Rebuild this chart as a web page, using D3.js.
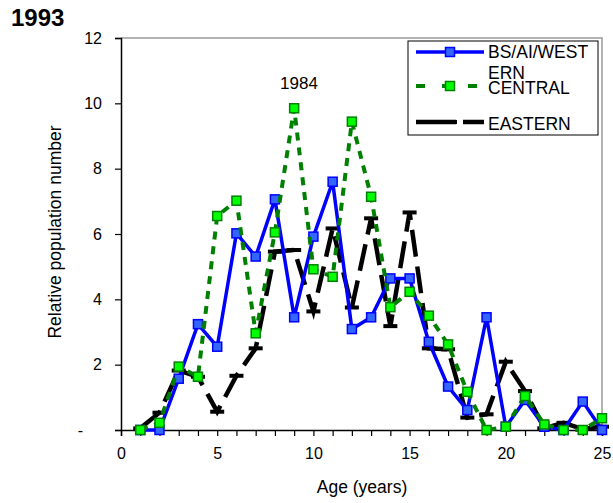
<!DOCTYPE html>
<html>
<head>
<meta charset="utf-8">
<script src="https://cdn.jsdelivr.net/npm/d3@7"></script>
<style>
  html, body { margin: 0; padding: 0; background: #fff; }
  svg { display: block; font-family: Arial, "Liberation Sans", sans-serif; }
</style>
</head>
<body>
<svg id="chart" width="613" height="503"></svg>
<script>
// ---- data ----
const ages = [1,2,3,4,5,6,7,8,9,10,11,12,13,14,15,16,17,18,19,20,21,22,23,24,25];
const western = [0,0,1.57,3.24,2.55,6.02,5.31,7.06,3.45,5.92,7.6,3.09,3.45,4.64,4.64,2.7,1.33,0.61,3.45,0.1,0.92,0.1,0,0.87,0];
const central = [0,0.22,1.94,1.63,6.55,7.02,2.96,6.05,9.85,4.92,4.69,9.44,7.14,3.76,4.23,3.5,2.62,1.17,0,0.1,1.04,0.17,0,0,0.36];
const eastern = [0.05,0.53,1.82,1.63,0.56,1.66,2.5,5.46,5.51,3.63,6.17,3.75,6.48,3.18,6.66,2.5,2.47,0.38,0.48,2.09,1.19,0.05,0.22,0.03,0.1];
const seriesNames = ["BS/AI/WESTERN", "CENTRAL", "EASTERN"];
const yTicks = [0,2,4,6,8,10,12];
const xTicks = [0,5,10,15,20,25];
const title = "1993";
const annotation = "1984";
const xLabel = "Age (years)";
const yLabel = "Relative population number";

// ---- layout ----
const svg = d3.select("#chart");
const L = 121, R = 602, T = 38, B = 430;
const x = d3.scaleLinear().domain([0,25]).range([L,R]);
const y = d3.scaleLinear().domain([0,12]).range([B,T]);

// plot frame (top/right grey)
svg.append("path")
  .attr("d", `M${L},${T}H${R}V${B}`)
  .attr("fill","none").attr("stroke","#9a9a9a").attr("stroke-width",1.5);

// y axis
const yAxis = d3.axisLeft(y).tickValues(yTicks).tickSize(6).tickPadding(13)
  .tickFormat(d => d === 0 ? "-" : d);
const gy = svg.append("g").attr("transform",`translate(${L},0)`).call(yAxis);
gy.select(".domain").attr("stroke","#000").attr("stroke-width",1.5);
gy.selectAll(".tick line").attr("stroke","#000").attr("stroke-width",1.2);
gy.selectAll(".tick text").attr("font-size",16).attr("fill","#000")
  .attr("font-family","Arial, 'Liberation Sans', sans-serif");
gy.selectAll(".tick text").filter(d => d === 0).attr("dx",-19);

// x axis
const xAxis = d3.axisBottom(x).tickValues(d3.range(0,26)).tickSize(6).tickPadding(12)
  .tickFormat(d => xTicks.includes(d) ? d : "");
const gx = svg.append("g").attr("transform",`translate(0,${B})`).call(xAxis);
gx.select(".domain").attr("stroke","#000").attr("stroke-width",1.5);
gx.selectAll(".tick line").attr("stroke","#000").attr("stroke-width",1.2);
gx.selectAll(".tick text").attr("font-size",16).attr("fill","#000")
  .attr("font-family","Arial, 'Liberation Sans', sans-serif");

// titles
svg.append("text").attr("x",11).attr("y",26).attr("font-size",24).attr("font-weight","bold").text(title);
svg.append("text").attr("x",362).attr("y",493).attr("text-anchor","middle").attr("font-size",17.5).text(xLabel);
svg.append("text").attr("transform",`translate(61,232) rotate(-90)`)
  .attr("text-anchor","middle").attr("font-size",17.5).text(yLabel);
svg.append("text").attr("x",299).attr("y",89).attr("text-anchor","middle").attr("font-size",17).text(annotation);

// series
const line = d3.line().x((d,i) => x(ages[i])).y(d => y(d));

// eastern (black long dash)
svg.append("path").datum(eastern).attr("d",line)
  .attr("fill","none").attr("stroke","#000").attr("stroke-width",4.5)
  .attr("stroke-dasharray","27,10");
svg.selectAll(".emk").data(eastern).enter().append("rect")
  .attr("x",(d,i) => x(ages[i]) - 7).attr("y",d => y(d) - 2)
  .attr("width",14).attr("height",4).attr("fill","#000");

// western (blue solid)
svg.append("path").datum(western).attr("d",line)
  .attr("fill","none").attr("stroke","#0000ff").attr("stroke-width",3.5)
  .attr("stroke-linejoin","miter");
svg.selectAll(".wmk").data(western).enter().append("rect")
  .attr("x",(d,i) => x(ages[i]) - 4.5).attr("y",d => y(d) - 4.5)
  .attr("width",9).attr("height",9)
  .attr("fill","#3366ff").attr("stroke","#0000ff").attr("stroke-width",1.5);

// central (green dotted)
svg.append("path").datum(central).attr("d",line)
  .attr("fill","none").attr("stroke","#008000").attr("stroke-width",4)
  .attr("stroke-dasharray","8,7");
svg.selectAll(".cmk").data(central).enter().append("rect")
  .attr("x",(d,i) => x(ages[i]) - 4.5).attr("y",d => y(d) - 4.5)
  .attr("width",9).attr("height",9)
  .attr("fill","#00ff00").attr("stroke","#008000").attr("stroke-width",1.5);

// legend
const lg = svg.append("g");
lg.append("rect").attr("x",408).attr("y",41).attr("width",190).attr("height",94)
  .attr("fill","#fff").attr("stroke","#000").attr("stroke-width",1);
const lx1 = 416, lx2 = 484, lmx = 450;
// western
lg.append("line").attr("x1",lx1).attr("x2",lx2).attr("y1",52).attr("y2",52)
  .attr("stroke","#0000ff").attr("stroke-width",3.5);
lg.append("rect").attr("x",lmx-4.5).attr("y",52-4.5).attr("width",9).attr("height",9)
  .attr("fill","#3366ff").attr("stroke","#0000ff").attr("stroke-width",1.5);
lg.append("text").attr("x",488).attr("y",58).attr("font-size",17.5).text(seriesNames[0].slice(0,10));
lg.append("text").attr("x",488).attr("y",78.5).attr("font-size",17.5).text(seriesNames[0].slice(10));
// central
lg.append("line").attr("x1",lx1).attr("x2",lx2).attr("y1",86).attr("y2",86)
  .attr("stroke","#008000").attr("stroke-width",4).attr("stroke-dasharray","9,17");
lg.append("rect").attr("x",lmx-4.5).attr("y",86-4.5).attr("width",9).attr("height",9)
  .attr("fill","#00ff00").attr("stroke","#008000").attr("stroke-width",1.5);
lg.append("text").attr("x",488).attr("y",94).attr("font-size",17.5).text(seriesNames[1]);
// eastern
lg.append("line").attr("x1",lx1).attr("x2",lx2).attr("y1",122).attr("y2",122)
  .attr("stroke","#000").attr("stroke-width",4.5).attr("stroke-dasharray","40,7");
lg.append("rect").attr("x",lmx-7).attr("y",122-2).attr("width",14).attr("height",4).attr("fill","#000");
lg.append("text").attr("x",488).attr("y",130).attr("font-size",17.5).text(seriesNames[2]);
</script>
</body>
</html>
